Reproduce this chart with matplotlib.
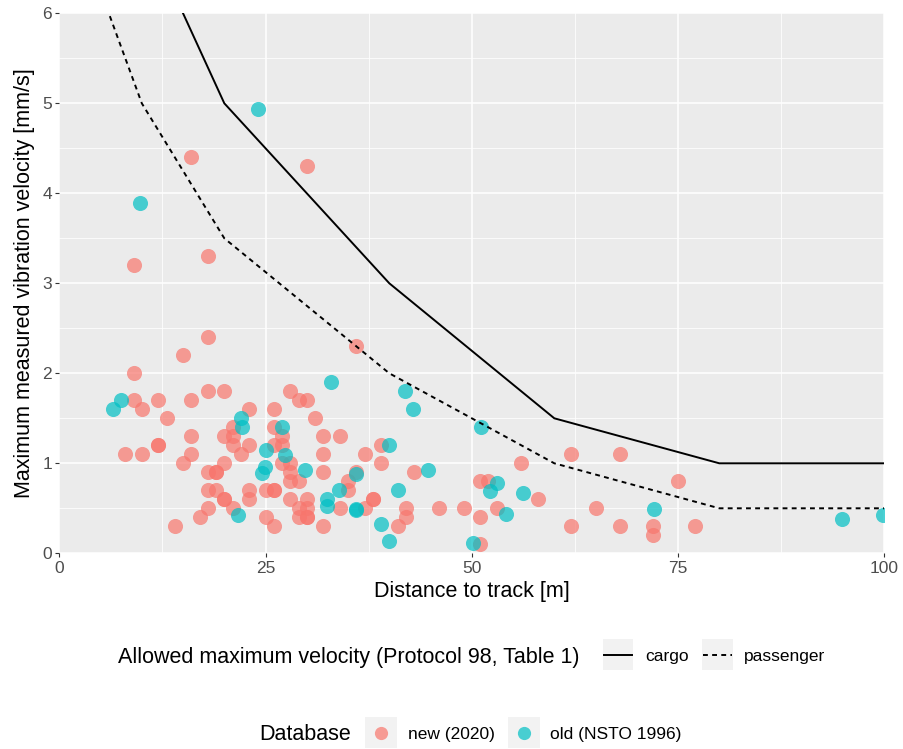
import matplotlib
matplotlib.use("Agg")
import matplotlib.pyplot as plt
from matplotlib.patches import Rectangle
from matplotlib.lines import Line2D
import numpy as np

plt.rcParams['font.family'] = ['Liberation Sans', 'DejaVu Sans']

# ---------------- data ----------------
new_x = [16, 30, 9, 18, 18, 15, 36, 9,
         9, 10, 12, 13, 16, 18, 20,
         16, 12, 12, 8, 10, 16, 15,
         14, 17, 18, 18, 19, 19, 20,
         18, 19, 20, 20, 21, 23, 23,
         22, 21, 23, 21, 20, 21, 23,
         26, 26, 27, 26, 27, 27, 28, 28, 28, 29,
         25, 26, 26, 28, 29, 29, 25, 26,
         28, 29, 30,
         31, 32, 34, 32, 32, 37, 39, 39, 36, 35, 35, 43,
         38, 38, 37, 34, 30, 30, 30, 30, 32, 41, 42, 42,
         46, 49, 51, 51, 51, 52, 53, 56, 58,
         62, 68, 75, 65, 62, 68, 72, 72, 77]
new_y = [4.4, 4.3, 3.2, 3.3, 2.4, 2.2, 2.3, 2.0,
         1.7, 1.6, 1.7, 1.5, 1.7, 1.8, 1.8,
         1.3, 1.2, 1.2, 1.1, 1.1, 1.1, 1.0,
         0.3, 0.4, 0.5, 0.9, 0.9, 0.9, 1.0,
         0.7, 0.7, 0.6, 0.6, 0.5, 0.6, 0.7,
         1.1, 1.2, 1.2, 1.3, 1.3, 1.4, 1.6,
         1.6, 1.4, 1.3, 1.2, 1.2, 1.0, 1.0, 0.9, 0.8, 0.8,
         0.7, 0.7, 0.7, 0.6, 0.5, 0.4, 0.4, 0.3,
         1.8, 1.7, 1.7,
         1.5, 1.3, 1.3, 1.1, 0.9, 1.1, 1.2, 1.0, 0.9, 0.8, 0.7, 0.9,
         0.6, 0.6, 0.5, 0.5, 0.6, 0.5, 0.4, 0.4, 0.3, 0.3, 0.4, 0.5,
         0.5, 0.5, 0.4, 0.1, 0.8, 0.8, 0.5, 1.0, 0.6,
         1.1, 1.1, 0.8, 0.5, 0.3, 0.3, 0.3, 0.2, 0.3]

old_x = [24.1, 9.8, 7.5, 6.5, 21.6, 22.0, 22.2, 27.0, 25.0, 24.9, 24.6, 27.4,
         29.8, 32.9, 41.9, 42.9, 51.1, 40.0, 36.0, 33.9, 44.7, 41.0, 36.0, 36.0,
         32.4, 32.5, 39.0, 40.0, 50.1, 53.1, 52.2, 54.2, 56.2, 72.1, 94.9, 99.9]
old_y = [4.94, 3.89, 1.70, 1.60, 0.43, 1.50, 1.40, 1.40, 1.15, 0.96, 0.89, 1.09,
         0.93, 1.90, 1.80, 1.60, 1.40, 1.20, 0.88, 0.70, 0.93, 0.70, 0.48, 0.49,
         0.60, 0.53, 0.33, 0.14, 0.11, 0.78, 0.69, 0.44, 0.67, 0.49, 0.38, 0.43]

limit_x = [0, 10, 20, 40, 60, 80, 100]
cargo_y = [9.0, 7.0, 5.0, 3.0, 1.5, 1.0, 1.0]
passenger_y = [7.5, 5.0, 3.5, 2.0, 1.0, 0.5, 0.5]

x_ticks = [0, 25, 50, 75, 100]
y_ticks = [0, 1, 2, 3, 4, 5, 6]

RED = '#F8766D'
CYAN = '#00BFC4'
ALPHA = 0.7
DASH = (0, (2.5, 2.2))

# ---------------- figure ----------------
W, H = 904, 749
fig = plt.figure(figsize=(W / 100, H / 100), dpi=100)
ax = fig.add_axes([59.3 / W, 1 - 553.3 / H, (884.3 - 59.3) / W, (553.3 - 13.3) / H])
ax.set_facecolor('#EBEBEB')
for s in ax.spines.values():
    s.set_visible(False)

ax.set_xlim(0, 100)
ax.set_ylim(0, 6)
ax.set_xticks(x_ticks)
ax.set_yticks(y_ticks)
ax.set_xticks([12.5, 37.5, 62.5, 87.5], minor=True)
ax.set_yticks([0.5, 1.5, 2.5, 3.5, 4.5, 5.5], minor=True)
ax.grid(which='major', color='white', linewidth=1.1)
ax.grid(which='minor', color='white', linewidth=0.55)
ax.set_axisbelow(True)
ax.tick_params(which='minor', length=0)
ax.tick_params(which='major', length=3.2, width=0.8, color='#333333',
               labelsize=12.5, labelcolor='#4D4D4D', pad=2)

ax.scatter(new_x, new_y, s=118, color=RED, alpha=ALPHA, linewidths=0, zorder=2)
ax.scatter(old_x, old_y, s=118, color=CYAN, alpha=ALPHA, linewidths=0, zorder=2)
ax.plot(limit_x, cargo_y, color='black', linewidth=1.4, zorder=3)
ax.plot(limit_x, passenger_y, color='black', linewidth=1.4,
        linestyle=DASH, zorder=3)

ax.set_xlabel('Distance to track [m]', fontsize=15.5, labelpad=4)
ax.set_ylabel('Maximum measured vibration velocity [mm/s]', fontsize=15.5, labelpad=5)


def fx(px):
    return px / W


def fy(py):
    return 1 - py / H


# ---------------- legend 1 ----------------
fig.text(fx(118.3), fy(658), 'Allowed maximum velocity (Protocol 98, Table 1)',
         fontsize=15.5, ha='left', va='center')
for (x0, x1), ls, label, tx in [((602.7, 633.3), '-', 'cargo', 645.7),
                                ((701.7, 733.3), DASH, 'passenger', 744.3)]:
    fig.patches.append(Rectangle((fx(x0), fy(670)), fx(x1) - fx(x0), fy(639.3) - fy(670),
                                 transform=fig.transFigure, facecolor='#F2F2F2',
                                 edgecolor='none'))
    fig.lines.append(Line2D([fx(x0 + 1.5), fx(x1 - 1.5)], [fy(654.7), fy(654.7)],
                            transform=fig.transFigure, color='black', linewidth=1.4,
                            linestyle=ls))
    fig.text(fx(tx), fy(657), label, fontsize=12.5, ha='left', va='center')

# ---------------- legend 2 ----------------
fig.text(fx(259.3), fy(735), 'Database', fontsize=15.5, ha='left', va='center')
for (x0, x1), col, label, tx in [((365, 396.7), RED, 'new (2020)', 408.3),
                                 ((508.3, 540), CYAN, 'old (NSTO 1996)', 550)]:
    fig.patches.append(Rectangle((fx(x0), fy(748.3)), fx(x1) - fx(x0), fy(717.3) - fy(748.3),
                                 transform=fig.transFigure, facecolor='#F2F2F2',
                                 edgecolor='none'))
    fig.lines.append(Line2D([fx((x0 + x1) / 2)], [fy(732.8)], transform=fig.transFigure,
                            marker='o', markersize=9.5, markeredgewidth=0,
                            color=col, alpha=ALPHA, linestyle='none'))
    fig.text(fx(tx), fy(735), label, fontsize=12.5, ha='left', va='center')

fig.savefig('out.png', dpi=100, facecolor='white')
